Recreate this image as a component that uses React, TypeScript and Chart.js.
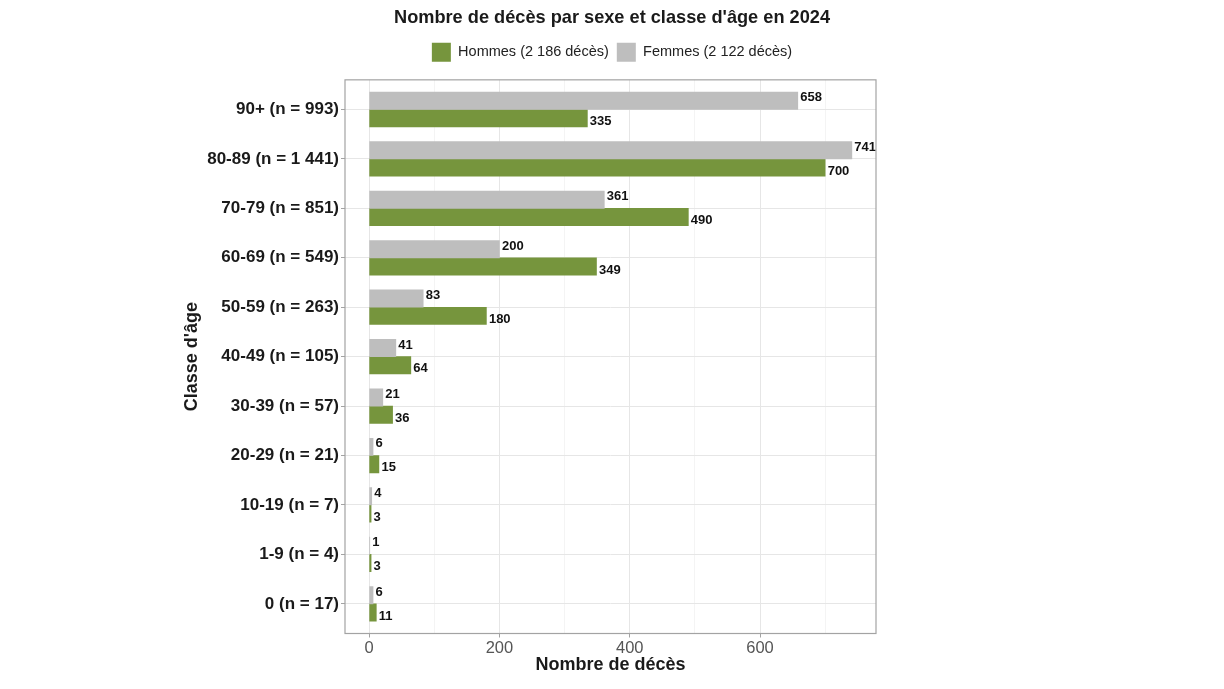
import React, { useEffect, useRef } from 'react';
import { Chart, registerables } from 'chart.js';

Chart.register(...registerables);

const categories = [
  '90+ (n = 993)',
  '80-89 (n = 1 441)',
  '70-79 (n = 851)',
  '60-69 (n = 549)',
  '50-59 (n = 263)',
  '40-49 (n = 105)',
  '30-39 (n = 57)',
  '20-29 (n = 21)',
  '10-19 (n = 7)',
  '1-9 (n = 4)',
  '0 (n = 17)',
];
const femmes = [658, 741, 361, 200, 83, 41, 21, 6, 4, 1, 6];
const hommes = [335, 700, 490, 349, 180, 64, 36, 15, 3, 3, 11];
const xTickValues = [0, 100, 200, 300, 400, 500, 600, 700];
const xLabeledTicks = [0, 200, 400, 600];

const FONT = '"Liberation Sans", Arial, Helvetica, sans-serif';
const GREEN = '#76953D';
const GREY = '#BEBEBE';

const labelOffsets = [-3, 3.5];

const valueLabels = {
  id: 'valueLabels',
  afterDatasetsDraw(chart: any) {
    const ctx = chart.ctx;
    ctx.save();
    ctx.font = `bold 13px ${FONT}`;
    ctx.fillStyle = '#111111';
    ctx.textAlign = 'left';
    ctx.textBaseline = 'middle';
    chart.data.datasets.forEach((ds: any, di: number) => {
      const meta = chart.getDatasetMeta(di);
      meta.data.forEach((bar: any, i: number) => {
        const v = ds.data[i].x;
        ctx.fillText(String(v), bar.x + 2.5, bar.y + labelOffsets[di]);
      });
    });
    ctx.restore();
  },
};

const panelBorder = {
  id: 'panelBorder',
  afterDraw(chart: any) {
    const { ctx, chartArea } = chart;
    ctx.save();
    ctx.strokeStyle = '#A3A3A3';
    ctx.lineWidth = 1.2;
    ctx.strokeRect(chartArea.left, chartArea.top, chartArea.right - chartArea.left, chartArea.bottom - chartArea.top);
    ctx.restore();
  },
};

export default function App() {
  const ref = useRef<HTMLCanvasElement | null>(null);

  useEffect(() => {
    if (!ref.current) return;
    const chart = new Chart(ref.current, {
      type: 'bar',
      data: {
        datasets: [
          {
            label: 'Femmes (2 122 décès)',
            data: femmes.map((v, i) => ({ x: v, y: i })),
            backgroundColor: GREY,
            borderWidth: 0,
          },
          {
            label: 'Hommes (2 186 décès)',
            data: hommes.map((v, i) => ({ x: v, y: i })),
            backgroundColor: GREEN,
            borderWidth: 0,
          },
        ],
      },
      options: {
        indexAxis: 'y',
        responsive: false,
        animation: false,
        events: [],
        datasets: { bar: { barThickness: 17.3 } },
        layout: { padding: { left: 0, right: 0, top: 0, bottom: 10 } },
        plugins: {
          title: {
            display: true,
            text: "Nombre de décès par sexe et classe d'âge en 2024",
            color: '#1a1a1a',
            font: { family: FONT, size: 18.2, weight: 'bold' },
            padding: { top: 7, bottom: 6 },
          },
          legend: {
            display: true,
            position: 'top',
            labels: {
              boxWidth: 19,
              boxHeight: 19,
              padding: 8,
              color: '#222222',
              font: { family: FONT, size: 14.5 },
              sort: (a: any, b: any) => b.datasetIndex - a.datasetIndex,
            },
          },
          tooltip: { enabled: false },
        },
        scales: {
          x: {
            type: 'linear',
            position: 'bottom',
            min: -37.05,
            max: 778.05,
            afterBuildTicks: (axis: any) => {
              axis.ticks = xTickValues.map((v) => ({ value: v }));
            },
            afterFit: (axis: any) => {
              axis.height = 689 - 633.5 - 10;
            },
            ticks: {
              autoSkip: false,
              maxRotation: 0,
              padding: 1,
              color: '#555555',
              font: { family: FONT, size: 16.5 },
              callback: (v: any) => (xLabeledTicks.includes(Number(v)) ? String(v) : ''),
            },
            grid: {
              color: (c: any) => (c.tick && c.tick.value % 200 === 0 ? '#E6E6E6' : '#EFEFEF'),
              lineWidth: (c: any) => (c.tick && c.tick.value % 200 === 0 ? 1 : 0.7),
              tickColor: (c: any) => (c.tick && c.tick.value % 200 === 0 ? '#A3A3A3' : 'rgba(0,0,0,0)'),
              tickLength: 4,
              tickWidth: 1,
            },
            border: { display: false },
            title: {
              display: true,
              text: 'Nombre de décès',
              color: '#1a1a1a',
              font: { family: FONT, size: 18, weight: 'bold' },
              padding: { top: 2, bottom: 3 },
            },
          },
          xTopSpacer: {
            type: 'linear',
            position: 'top',
            display: true,
            afterFit: (axis: any) => {
              axis.height = 8;
            },
            ticks: { display: false },
            grid: { display: false, drawTicks: false },
            border: { display: false },
            title: { display: false },
          },
          y: {
            type: 'linear',
            position: 'left',
            reverse: true,
            offset: false,
            min: -0.6,
            max: 10.6,
            afterBuildTicks: (axis: any) => {
              axis.ticks = categories.map((_, i) => ({ value: i }));
            },
            afterFit: (axis: any) => {
              axis.width = 345;
            },
            ticks: {
              autoSkip: false,
              padding: 2,
              color: '#1a1a1a',
              font: { family: FONT, size: 17, weight: 'bold' },
              callback: (v: any) => categories[Math.round(Number(v))] ?? '',
            },
            grid: {
              offset: false,
              color: '#E6E6E6',
              lineWidth: 1,
              tickColor: '#A3A3A3',
              tickLength: 4,
              tickWidth: 1,
            },
            border: { display: false },
            title: {
              display: true,
              text: "Classe d'âge",
              color: '#1a1a1a',
              font: { family: FONT, size: 18, weight: 'bold' },
              padding: { top: 181, bottom: 2 },
            },
          },
          yRightSpacer: {
            type: 'linear',
            position: 'right',
            display: true,
            afterFit: (axis: any) => {
              axis.width = 348;
            },
            ticks: { display: false },
            grid: { display: false, drawTicks: false },
            border: { display: false },
            title: { display: false },
          },
        },
      },
      plugins: [valueLabels, panelBorder],
    } as any);
    return () => chart.destroy();
  }, []);

  return (
    <div style={{ position: 'absolute', left: 0, top: 0, width: 1224, height: 689, background: '#ffffff' }}>
      <canvas ref={ref} width={1224} height={689} style={{ display: 'block' }} />
    </div>
  );
}
